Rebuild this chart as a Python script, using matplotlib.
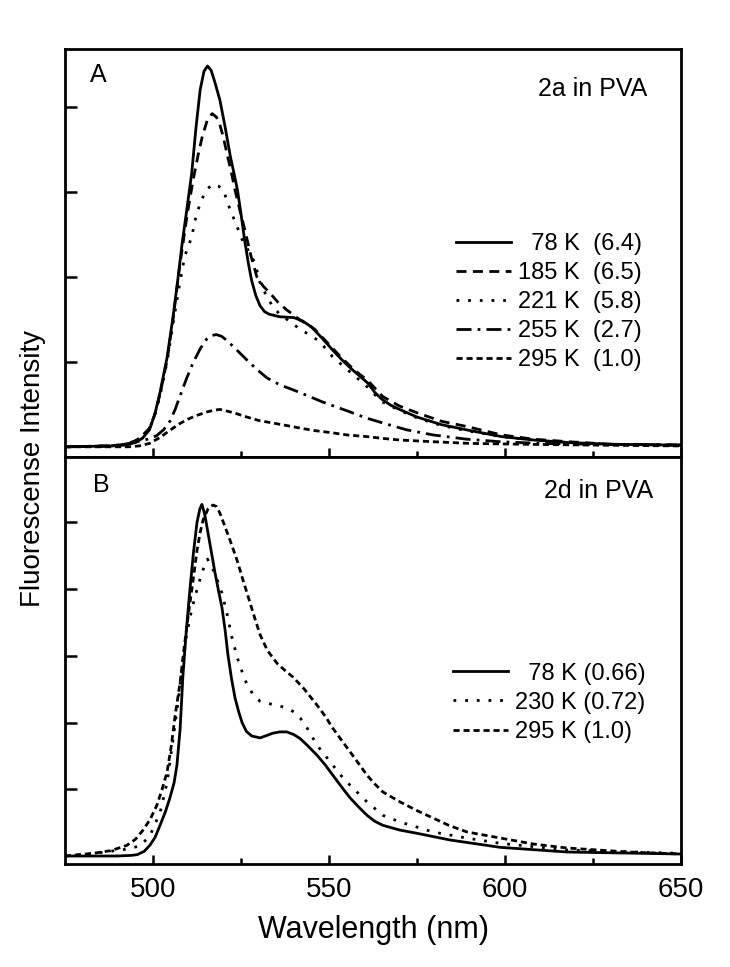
import matplotlib
matplotlib.use('Agg')
import matplotlib.pyplot as plt
from matplotlib import font_manager

# fuentes: Arial-like, y una version estrecha para los ejes si existe
installed = {f.name for f in font_manager.fontManager.ttflist}
narrow = 'Liberation Sans Narrow' if 'Liberation Sans Narrow' in installed else 'Liberation Sans'
plt.rcParams['font.family'] = ['Liberation Sans', 'DejaVu Sans']

# ---- Panel A: 2a en PVA ----
wl_a78 = [475, 488, 492, 495, 497, 499, 500.5, 502, 504, 505.7, 507, 508.3, 509.7, 511, 512.2, 513.4, 514.5,
          515.5, 516.5, 517.5, 519, 520.5, 522, 523, 524, 525, 526, 527, 528, 529.2, 530.4, 531.7, 533,
          536, 540, 542.5, 545, 548, 551, 553.5, 556, 558.5, 561, 563, 565, 567.5, 570, 575, 582, 589,
          599, 608, 618, 630, 650]
a78 = [0.0, 0.01, 0.02, 0.05, 0.1, 0.2, 0.38, 0.64, 1.05, 1.53, 1.95, 2.4, 2.82, 3.22, 3.75, 4.2, 4.42,
       4.48, 4.43, 4.3, 4.08, 3.76, 3.41, 3.22, 3.02, 2.74, 2.44, 2.18, 1.96, 1.78, 1.66, 1.59, 1.56,
       1.53, 1.52, 1.48, 1.41, 1.28, 1.14, 1.03, 0.93, 0.84, 0.75, 0.64, 0.56, 0.49, 0.44, 0.35, 0.26, 0.2,
       0.12, 0.08, 0.05, 0.03, 0.02]

wl_a185 = [475, 488, 492, 495, 497, 499, 500.5, 502, 504, 505.7, 507.5, 509.6, 511.4, 512.8, 514, 515.4,
           516.8, 518, 519, 520, 521, 522.2, 523.3, 524.7, 526.1, 527.8, 529.5, 531.3, 533.2, 535.5, 538,
           540, 541.8, 544, 546, 548.5, 551, 553.5, 556, 558.5, 561, 565.3, 570, 575, 582, 589, 599,
           608, 618, 630, 650]
a185 = [0, 0.01, 0.03, 0.07, 0.13, 0.22, 0.38, 0.62, 1.02, 1.5, 2.1, 2.7, 3.14, 3.43, 3.65, 3.84,
        3.92, 3.88, 3.79, 3.64, 3.45, 3.24, 3.02, 2.78, 2.55, 2.25, 2.0, 1.89, 1.81, 1.7, 1.61,
        1.55, 1.49, 1.44, 1.38, 1.27, 1.16, 1.05, 0.95, 0.86, 0.78, 0.59, 0.48, 0.4, 0.3, 0.24, 0.14,
        0.09, 0.06, 0.03, 0.02]

wl_a221 = [475, 488, 492, 495, 497, 499, 500.5, 502, 504, 505.7, 507.5, 509, 511, 512, 513.2, 514.2, 515.6,
           517, 518.5, 520, 521.9, 523.6, 525.3, 527.2, 529, 530.4, 532.2, 534, 536, 538, 540, 541.8, 544,
           546.6, 549, 551, 553.5, 556, 561, 565, 570, 575, 582, 589, 599, 608, 618, 630, 650]
a221 = [0, 0.01, 0.03, 0.07, 0.13, 0.22, 0.37, 0.6, 1.0, 1.45, 1.9, 2.24, 2.47, 2.67, 2.84, 2.94, 3.04,
        3.09, 3.07, 3.02, 2.79, 2.62, 2.44, 2.3, 2.16, 1.93, 1.78, 1.65, 1.56, 1.5, 1.44, 1.38, 1.33,
        1.26, 1.16, 1.06, 0.97, 0.88, 0.7, 0.53, 0.43, 0.34, 0.25, 0.19, 0.12, 0.08, 0.05, 0.03, 0.02]

wl_a255 = [475, 488, 492, 495.5, 498.5, 501, 503, 504.8, 506.3, 507.7, 509.5, 511.4, 513.5, 515.3, 516.7, 518,
           519.5, 521, 523.8, 526.7, 529.5, 532.4, 536, 539.8, 544, 548, 552, 556, 560.5, 565.3, 572,
           579.5, 589, 598.6, 610, 625, 650]
a255 = [0, 0.01, 0.03, 0.06, 0.09, 0.13, 0.2, 0.3, 0.44, 0.6, 0.8, 0.99, 1.16, 1.27, 1.31, 1.32,
        1.3, 1.25, 1.14, 1.02, 0.91, 0.81, 0.73, 0.67, 0.6, 0.53, 0.47, 0.41, 0.34, 0.28, 0.2,
        0.14, 0.09, 0.06, 0.04, 0.03, 0.02]

wl_a295 = [475, 493, 496, 499, 502, 505, 507.5, 509.6, 512.5, 515.3, 517.3, 519, 521, 523, 526.7, 530, 534,
           538, 541.8, 546, 550, 555, 560.8, 565, 570, 579.5, 590, 605, 625, 650]
a295 = [0, 0, 0.01, 0.04, 0.11, 0.2, 0.27, 0.32, 0.37, 0.41, 0.43, 0.44, 0.42, 0.4, 0.35, 0.31, 0.28,
        0.25, 0.22, 0.19, 0.17, 0.14, 0.12, 0.1, 0.08, 0.06, 0.04, 0.03, 0.02, 0.01]

labels_a = ['  78 K  (6.4)', '185 K  (6.5)', '221 K  (5.8)', '255 K  (2.7)', '295 K  (1.0)']

# ---- Panel B: 2d en PVA ----
wl_b78 = [475, 490, 494, 495.5, 497.5, 499.1, 500.6, 502, 503.5, 504.8, 506, 506.8, 507.7, 508.5, 509.5, 510.5,
          511.5, 512.5, 513.3, 513.9, 514.7, 515.6, 516.6, 517.6, 518.6, 519.6, 520.5, 521.3, 522.3, 523.3,
          524.3, 525.3, 526.5, 528, 530.4, 532, 534, 536, 538, 540, 541.8, 544, 546.6, 549, 551.1, 553.5,
          556, 558.5, 560.8, 563, 565.3, 570, 575, 584.4, 598.6, 617.6, 650]
b78 = [0, 0.0, 0.01, 0.02, 0.07, 0.16, 0.28, 0.46, 0.66, 0.87, 1.1, 1.36, 1.9, 2.7, 3.4, 4.0,
       4.55, 5.0, 5.2, 5.27, 5.12, 4.85, 4.55, 4.25, 3.98, 3.72, 3.38, 3.01, 2.66, 2.37,
       2.17, 2.0, 1.87, 1.8, 1.77, 1.8, 1.84, 1.86, 1.86, 1.82, 1.76, 1.65, 1.51, 1.36, 1.21, 1.04,
       0.87, 0.73, 0.61, 0.52, 0.46, 0.39, 0.34, 0.24, 0.13, 0.06, 0.03]

wl_b230 = [475, 482, 487.8, 492, 496.3, 499.1, 502, 504, 505.7, 507.1, 508.3, 509.5, 510.7, 511.9, 513.9,
           515.5, 517, 518.3, 519.6, 521, 522.4, 523.9, 526.1, 528.4, 530.4, 532.4, 535, 538, 540, 541.8,
           544, 546.6, 549, 551.1, 553.5, 556, 558.5, 560.8, 565.3, 570.2, 579.5, 589, 598.6, 617.6, 650]
b230 = [0, 0.03, 0.07, 0.1, 0.15, 0.3, 0.65, 1.1, 1.75, 2.3, 2.85, 3.3, 3.62, 3.88, 4.25,
        4.45, 4.3, 4.13, 3.94, 3.64, 3.28, 2.98, 2.64, 2.42, 2.32, 2.29, 2.26, 2.22, 2.16, 2.07,
        1.9, 1.66, 1.5, 1.36, 1.2, 1.06, 0.93, 0.81, 0.61, 0.51, 0.36, 0.27, 0.19, 0.09, 0.04]

wl_b295 = [475, 483, 488, 492.6, 495, 497.2, 499.2, 501.1, 502.6, 504, 505.2, 506.3, 507.7, 508.8, 510,
           511.3, 512.5, 513.4, 514.2, 515.6, 517, 518, 519, 520.5, 521.9, 523.9, 525.6, 527.6, 529,
           530.4, 532.5, 535.2, 537.5, 539.8, 543, 546.6, 549, 551, 553.5, 556, 558.5, 560.8, 563,
           565.3, 570.2, 575, 579.5, 584, 589.2, 598.6, 608, 617.6, 635, 650]
b295 = [0, 0.04, 0.08, 0.16, 0.25, 0.39, 0.55, 0.76, 1.0, 1.26, 1.65, 2.11, 2.6, 3.1, 3.6,
        4.1, 4.58, 4.85, 5.03, 5.2, 5.26, 5.24, 5.14, 4.93, 4.73, 4.43, 4.13, 3.79, 3.55,
        3.32, 3.08, 2.89, 2.78, 2.68, 2.5, 2.26, 2.09, 1.92, 1.74, 1.56, 1.38, 1.21, 1.08,
        0.96, 0.81, 0.68, 0.57, 0.46, 0.36, 0.27, 0.18, 0.12, 0.06, 0.03]

labels_b = ['  78 K (0.66)', '230 K (0.72)', '295 K (1.0)']

# estilos de linea
lw = 2.0
st_solid = '-'
st_dash = (0, (3.6, 2.3))
st_dot = (0, (1, 3.2))
st_dashdot = (0, (5.4, 2.2, 1, 2.2))
st_short = (0, (2.2, 1.4))

fig = plt.figure(figsize=(7.3, 9.67), dpi=100)
axA = fig.add_axes([0.089, 0.5274, 0.844, 0.4219])
axB = fig.add_axes([0.089, 0.1065, 0.844, 0.4209], sharex=axA)

axA.plot(wl_a78, a78, color='black', lw=lw, ls=st_solid, label=labels_a[0])
axA.plot(wl_a185, a185, color='black', lw=lw, ls=st_dash, label=labels_a[1])
axA.plot(wl_a221, a221, color='black', lw=lw, ls=st_dot, label=labels_a[2])
axA.plot(wl_a255, a255, color='black', lw=lw, ls=st_dashdot, label=labels_a[3])
axA.plot(wl_a295, a295, color='black', lw=lw, ls=st_short, label=labels_a[4])

axB.plot(wl_b78, b78, color='black', lw=lw, ls=st_solid, label=labels_b[0])
axB.plot(wl_b230, b230, color='black', lw=lw, ls=st_dot, label=labels_b[1])
axB.plot(wl_b295, b295, color='black', lw=lw, ls=st_short, label=labels_b[2])

axA.set_ylim(-0.12, 4.68)
axB.set_ylim(-0.12, 5.98)
axA.set_xlim(475, 650)
axA.set_yticks([1, 2, 3, 4])
axB.set_yticks([1, 2, 3, 4, 5])
axB.set_xticks([500, 550, 600, 650])
axB.set_xticks([525, 575, 625], minor=True)

for ax in (axA, axB):
    for s in ax.spines.values():
        s.set_linewidth(2.0)
    ax.tick_params(axis='both', which='major', direction='in', width=1.8, length=6.5)
    ax.tick_params(axis='y', which='major', length=8.5, labelleft=False)
    ax.tick_params(axis='x', which='minor', direction='in', width=1.8, length=4)
    ax.tick_params(axis='y', which='minor', left=False)
axA.tick_params(axis='x', labelbottom=False)
axB.tick_params(axis='x', labelsize=20, pad=9)
for t in axB.get_xticklabels():
    t.set_fontfamily([narrow, 'Liberation Sans'])

axA.text(0.04, 0.918, 'A', transform=axA.transAxes, fontsize=18)
axB.text(0.045, 0.915, 'B', transform=axB.transAxes, fontsize=18)
axA.text(0.945, 0.885, '2a in PVA', transform=axA.transAxes, fontsize=18, ha='right')
axB.text(0.955, 0.9, '2d in PVA', transform=axB.transAxes, fontsize=18, ha='right')

legA = axA.legend(loc='upper left', bbox_to_anchor=(0.62, 0.572), frameon=False, fontsize=17,
                  handlelength=2.3, handletextpad=0.3, labelspacing=0.3, borderaxespad=0)
legB = axB.legend(loc='upper left', bbox_to_anchor=(0.615, 0.518), frameon=False, fontsize=17,
                  handlelength=2.3, handletextpad=0.3, labelspacing=0.3, borderaxespad=0)

axB.set_xlabel('Wavelength (nm)', fontsize=22, family=[narrow, 'Liberation Sans'], labelpad=9)
fig.text(0.045, 0.515, 'Fluorescense Intensity', rotation=90, fontsize=20, ha='center', va='center')

plt.savefig('out.png', dpi=100)
